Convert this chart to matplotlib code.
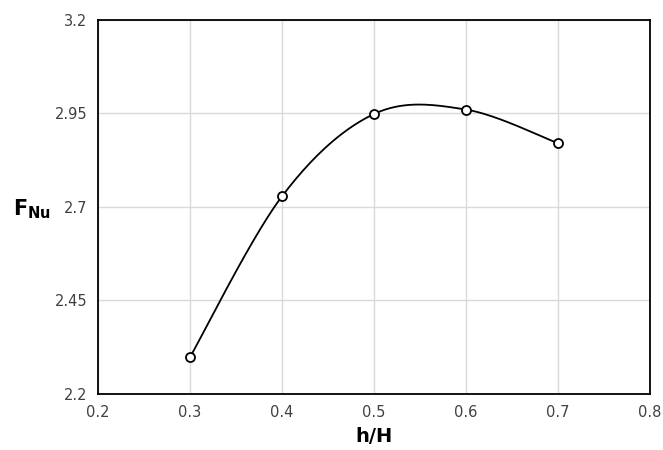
import numpy as np
import matplotlib.pyplot as plt

# data
h_ratio = [0.3, 0.4, 0.5, 0.6, 0.7]
f_nu = [2.298, 2.728, 2.948, 2.960, 2.870]

x_ticks = [0.2, 0.3, 0.4, 0.5, 0.6, 0.7, 0.8]
y_ticks = [2.2, 2.45, 2.7, 2.95, 3.2]


def smooth_line(x, y, n=40):
    # Excel-style smoothed line: cubic Bezier segments, control points from neighbours / 6
    p = np.column_stack([x, y]).astype(float)
    out = [p[0]]
    for i in range(len(p) - 1):
        p0 = p[i - 1] if i > 0 else p[i]
        p1 = p[i]
        p2 = p[i + 1]
        p3 = p[i + 2] if i + 2 < len(p) else p[i + 1]
        c1 = p1 + (p2 - p0) / 6.0
        c2 = p2 - (p3 - p1) / 6.0
        t = np.linspace(0, 1, n)[1:, None]
        seg = ((1 - t) ** 3) * p1 + 3 * ((1 - t) ** 2) * t * c1 + 3 * (1 - t) * t ** 2 * c2 + t ** 3 * p2
        out.extend(seg)
    out = np.array(out)
    return out[:, 0], out[:, 1]


fig = plt.figure(figsize=(6.63, 4.5), dpi=100)
ax = fig.add_axes([0.148, 0.125, 0.832, 0.831])

sx, sy = smooth_line(h_ratio, f_nu)
ax.plot(sx, sy, color='black', lw=1.3, zorder=3)
ax.plot(h_ratio, f_nu, 'o', ms=6.5, mfc='white', mec='black', mew=1.3, zorder=4)

ax.set_xlim(0.2, 0.8)
ax.set_ylim(2.2, 3.2)
ax.set_xticks(x_ticks)
ax.set_yticks(y_ticks)
ax.set_xticklabels([f'{v:g}' for v in x_ticks])
ax.set_yticklabels([f'{v:g}' for v in y_ticks])
ax.tick_params(length=0, labelsize=10.5, colors='#404040', pad=8)
ax.grid(True, color='#d9d9d9', lw=1.0)
ax.set_axisbelow(True)
for s in ax.spines.values():
    s.set_linewidth(1.3)
    s.set_color('black')

ax.set_xlabel('h/H', fontsize=14, fontweight='bold', labelpad=5)
fig.text(0.048, 0.535, r'$\mathbf{F_{Nu}}$', fontsize=15, ha='center', va='center')

fig.savefig('out.png', dpi=100)
